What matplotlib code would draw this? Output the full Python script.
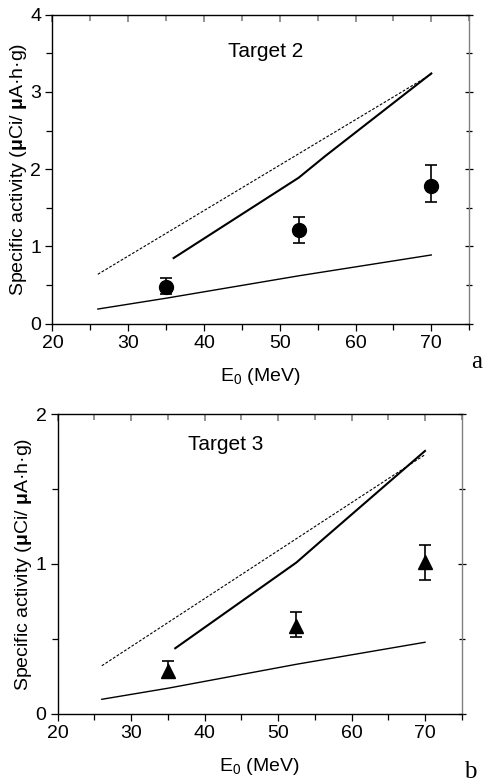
import matplotlib
matplotlib.use("Agg")
import matplotlib.pyplot as plt
from matplotlib.ticker import MultipleLocator

plt.rcParams['font.family'] = ['Liberation Sans', 'DejaVu Sans']
plt.rcParams['mathtext.fontset'] = 'custom'
plt.rcParams['mathtext.rm'] = 'Liberation Sans'
plt.rcParams['mathtext.it'] = 'Liberation Sans:italic'
plt.rcParams['mathtext.bf'] = 'Liberation Sans:bold'

# ---- Target 2 data ----
t2_dash_x = [26, 70]
t2_dash_y = [0.64, 3.23]
t2_thick_x = [36, 52.5, 56, 70]
t2_thick_y = [0.85, 1.89, 2.17, 3.24]
t2_thin_x = [26, 35, 52.5, 70]
t2_thin_y = [0.19, 0.33, 0.62, 0.89]
t2_pts_x = [35, 52.5, 70]
t2_pts_y = [0.48, 1.21, 1.78]
t2_err_lo = [0.10, 0.16, 0.21]
t2_err_hi = [0.11, 0.17, 0.27]

# ---- Target 3 data ----
t3_dash_x = [26, 70]
t3_dash_y = [0.32, 1.73]
t3_thick_x = [36, 52.5, 56, 70]
t3_thick_y = [0.437, 1.01, 1.16, 1.755]
t3_thin_x = [26, 35, 52.5, 70]
t3_thin_y = [0.096, 0.17, 0.33, 0.477]
t3_pts_x = [35, 52.5, 70]
t3_pts_y = [0.285, 0.586, 1.01]
t3_err_lo = [0.038, 0.072, 0.117]
t3_err_hi = [0.065, 0.091, 0.12]

ylabel_text = r'Specific activity ($\mathbf{\mu}$Ci/ $\mathbf{\mu}$A·h·g)'

fig = plt.figure(figsize=(4.85, 7.84), dpi=100)
ax1 = fig.add_axes([0.108, 0.5871, 0.8594, 0.3941])
ax2 = fig.add_axes([0.119, 0.0897, 0.833, 0.3819])

def style(ax, ymax, ymaj, ymin):
    ax.set_xlim(20, 75)
    ax.set_ylim(0, ymax)
    ax.xaxis.set_major_locator(MultipleLocator(10))
    ax.xaxis.set_minor_locator(MultipleLocator(5))
    ax.yaxis.set_major_locator(MultipleLocator(ymaj))
    ax.yaxis.set_minor_locator(MultipleLocator(ymin))
    ax.set_xticks([20, 30, 40, 50, 60, 70])
    ax.tick_params(which='both', direction='out', top=False, right=False, labelsize=14, width=0.9)
    ax.tick_params(which='major', length=5, pad=3)
    ax.tick_params(which='minor', length=4)
    ax.spines['right'].set_color('#808080')
    ax.spines['top'].set_color('black')
    for s in ax.spines.values():
        s.set_linewidth(1.0)
    sec = ax.secondary_xaxis('top')
    sec.set_xticks([20, 30, 40, 50, 60, 70])
    sec.xaxis.set_minor_locator(MultipleLocator(5))
    sec.tick_params(which='both', direction='in', labeltop=False, color='#808080', width=1.2)
    sec.tick_params(which='major', length=5)
    sec.tick_params(which='minor', length=4)
    sec.spines['top'].set_visible(False)
    sec2 = ax.secondary_yaxis('right')
    sec2.yaxis.set_major_locator(MultipleLocator(ymaj))
    sec2.yaxis.set_minor_locator(MultipleLocator(ymin))
    sec2.tick_params(which='both', direction='inout', labelright=False, color='black', width=0.9)
    sec2.tick_params(which='major', length=6)
    sec2.tick_params(which='minor', length=5)
    sec2.spines['right'].set_visible(False)
    ax.set_xlabel('E$_0$ (MeV)', fontsize=14, labelpad=10)
    ax.set_ylabel(ylabel_text, fontsize=14, labelpad=1)

# Top panel
ax1.plot(t2_dash_x, t2_dash_y, color='black', lw=0.8, dashes=(2.5, 1.5))
ax1.plot(t2_thick_x, t2_thick_y, color='black', lw=1.5)
ax1.plot(t2_thin_x, t2_thin_y, color='black', lw=1.0)
ax1.errorbar(t2_pts_x, t2_pts_y, yerr=[t2_err_lo, t2_err_hi], fmt='o', color='black',
             ms=10, capsize=4.5, elinewidth=1.2, capthick=1.2)
style(ax1, 4, 1, 0.5)
ax1.text(43.2, 3.52, 'Target 2', fontsize=15, va='center', ha='left')

# Bottom panel
ax2.plot(t3_dash_x, t3_dash_y, color='black', lw=0.8, dashes=(2.5, 1.5))
ax2.plot(t3_thick_x, t3_thick_y, color='black', lw=1.5)
ax2.plot(t3_thin_x, t3_thin_y, color='black', lw=1.0)
ax2.errorbar(t3_pts_x, t3_pts_y, yerr=[t3_err_lo, t3_err_hi], fmt='^', color='black',
             ms=10, capsize=4.5, elinewidth=1.2, capthick=1.2)
style(ax2, 2, 1, 0.5)
ax2.text(37.7, 1.795, 'Target 3', fontsize=15, va='center', ha='left')

fig.text(477 / 485, 1 - 362 / 784, 'a', fontsize=18, family='Liberation Serif', ha='center', va='center')
fig.text(470 / 485, 1 - 772 / 784, 'b', fontsize=18, family='Liberation Serif', ha='center', va='center')

fig.savefig('out.png', dpi=100)
